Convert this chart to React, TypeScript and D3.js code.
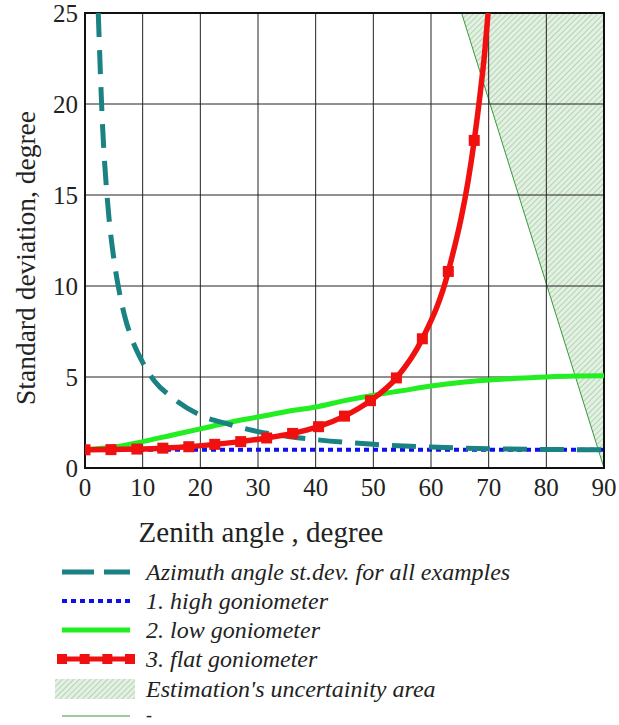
import React from "react";
import * as d3 from "d3";

// ---- data ----
const xTicks = [0, 10, 20, 30, 40, 50, 60, 70, 80, 90];
const yTicks = [0, 5, 10, 15, 20, 25];

// Azimuth angle st.dev. (teal dashed)
const azimuthX = [2.3, 3, 4, 5, 6, 7, 8, 10, 12, 15, 20, 25, 30, 35, 40, 50, 60, 70, 80, 90];
const azimuthY = [25, 19.1, 14.3, 11.5, 9.6, 8.2, 7.2, 5.8, 4.8, 3.9, 2.9, 2.4, 2.0, 1.75, 1.56, 1.3, 1.15, 1.06, 1.02, 1.0];

// 1. high goniometer (blue dotted)
const highX = [0, 90];
const highY = [1.0, 1.0];

// 2. low goniometer (green)
const lowX = [0, 5, 10, 15, 20, 25, 30, 35, 40, 45, 50, 55, 60, 65, 70, 75, 80, 85, 90];
const lowY = [1.0, 1.15, 1.45, 1.8, 2.15, 2.5, 2.8, 3.1, 3.35, 3.7, 4.0, 4.25, 4.5, 4.7, 4.83, 4.93, 5.0, 5.05, 5.07];

// 3. flat goniometer (red, markers)
const flatX = [0, 4.5, 9, 13.5, 18, 22.5, 27, 31.5, 36, 40.5, 45, 49.5, 54, 58.5, 63, 67.5];
const flatY = [1.0, 1.01, 1.04, 1.09, 1.17, 1.3, 1.45, 1.65, 1.9, 2.27, 2.85, 3.7, 4.95, 7.1, 10.8, 18.0];
const flatTailX = [68.5, 69.3, 69.9];
const flatTailY = [20.5, 22.8, 25];

// Estimation's uncertainty area
const areaX = [65.3, 90, 90];
const areaY = [25, 25, 0];

const legendLabels = [
  "Azimuth angle st.dev. for all examples",
  "1. high goniometer",
  "2. low goniometer",
  "3. flat goniometer",
  "Estimation's uncertainity area",
  "-",
];

const TEAL = "#1a8282";
const BLUE = "#1010e8";
const GREEN = "#22ee22";
const RED = "#f01010";

export default function App() {
  const W = 619, H = 725;
  const left = 85, right = 604, top = 13, bottom = 468;
  const x = d3.scaleLinear().domain([0, 90]).range([left, right]);
  const y = d3.scaleLinear().domain([0, 25]).range([bottom, top]);

  const line = d3.line<[number, number]>().x(d => x(d[0])).y(d => y(d[1]));
  const smooth = d3.line<[number, number]>().x(d => x(d[0])).y(d => y(d[1])).curve(d3.curveMonotoneX);

  const az: [number, number][] = azimuthX.map((v, i) => [v, azimuthY[i]]);
  const hi: [number, number][] = highX.map((v, i) => [v, highY[i]]);
  const lo: [number, number][] = lowX.map((v, i) => [v, lowY[i]]);
  const flat: [number, number][] = flatX.map((v, i) => [v, flatY[i]]);
  const flatAll: [number, number][] = flat.concat(flatTailX.map((v, i) => [v, flatTailY[i]] as [number, number]));
  const area: [number, number][] = areaX.map((v, i) => [v, areaY[i]]);

  const serif = "'Liberation Serif', 'Times New Roman', serif";
  const legendY = [572, 601, 630, 659, 689, 716];
  const textY = [580, 609, 638, 667, 697, 721];
  const textSize = [24, 24, 24, 24, 24, 18];
  const lx0 = 62, lx1 = 130, tx = 146;

  return (
    <svg width={W} height={H} style={{ position: "absolute", left: 0, top: 0, background: "#fff" }} fontFamily={serif}>
      <defs>
        <pattern id="hatch" width="4" height="4" patternUnits="userSpaceOnUse" patternTransform="rotate(45)">
          <rect width="4" height="4" fill="#e2f1e2" />
          <line x1="0" y1="0" x2="0" y2="4" stroke="#8ab68a" strokeWidth="1" />
        </pattern>
        <clipPath id="plot">
          <rect x={left} y={top} width={right - left} height={bottom - top} />
        </clipPath>
      </defs>

      {/* uncertainty area */}
      <path d={line(area) + "Z"} fill="url(#hatch)" />
      <line x1={x(area[0][0])} y1={y(area[0][1])} x2={x(area[2][0])} y2={y(area[2][1])} stroke="#3a9a3a" strokeWidth={1} />

      {/* grid */}
      {xTicks.map(t => (
        <line key={"gx" + t} x1={x(t)} x2={x(t)} y1={top} y2={bottom} stroke="#222" strokeWidth={1} />
      ))}
      {yTicks.map(t => (
        <line key={"gy" + t} x1={left} x2={right} y1={y(t)} y2={y(t)} stroke="#222" strokeWidth={1} />
      ))}
      <rect x={left} y={top} width={right - left} height={bottom - top} fill="none" stroke="#111" strokeWidth={2} />

      <g clipPath="url(#plot)">
        <path d={smooth(lo) || ""} fill="none" stroke={GREEN} strokeWidth={5} />
        <path d={line(hi) || ""} fill="none" stroke={BLUE} strokeWidth={4} strokeDasharray="5,4" />
        <path d={smooth(az) || ""} fill="none" stroke={TEAL} strokeWidth={5} strokeDasharray="24,13" />
        <path d={smooth(flatAll) || ""} fill="none" stroke={RED} strokeWidth={5.5} />
        {flat.map((d, i) => (
          <rect key={"m" + i} x={x(d[0]) - 5.5} y={y(d[1]) - 5.5} width={11} height={11} fill={RED} />
        ))}
      </g>

      {/* tick labels */}
      {yTicks.map(t => (
        <text key={"ty" + t} x={78} y={y(t)} dy="0.35em" textAnchor="end" fontSize={25} fill="#222">{t}</text>
      ))}
      {xTicks.map(t => (
        <text key={"tx" + t} x={x(t)} y={496} textAnchor="middle" fontSize={25} fill="#222">{t}</text>
      ))}

      {/* axis titles */}
      <text transform={`translate(35,258) rotate(-90)`} textAnchor="middle" fontSize={27.5} fill="#222">Standard deviation, degree</text>
      <text x={261} y={542} textAnchor="middle" fontSize={29} fill="#222">Zenith angle , degree</text>

      {/* legend */}
      <line x1={lx0} x2={lx1} y1={legendY[0]} y2={legendY[0]} stroke={TEAL} strokeWidth={5} strokeDasharray="32,10" />
      <line x1={lx0} x2={lx1} y1={legendY[1]} y2={legendY[1]} stroke={BLUE} strokeWidth={4} strokeDasharray="5,4" />
      <line x1={lx0} x2={lx1} y1={legendY[2]} y2={legendY[2]} stroke={GREEN} strokeWidth={5} />
      <line x1={lx0} x2={lx1} y1={legendY[3]} y2={legendY[3]} stroke={RED} strokeWidth={5} />
      {[0, 1, 2, 3].map(i => (
        <rect key={"lm" + i} x={lx0 + i * (lx1 - lx0) / 3 - 5} y={legendY[3] - 5} width={10} height={10} fill={RED} />
      ))}
      <rect x={55} y={legendY[4] - 10} width={80} height={20} fill="url(#hatch)" />
      <line x1={lx0} x2={lx1} y1={legendY[5]} y2={legendY[5]} stroke="#3a9a3a" strokeWidth={1} />
      {legendLabels.map((s, i) => (
        <text key={"lt" + i} x={tx} y={textY[i]} fontSize={textSize[i]} fontStyle="italic" fill="#222">{s}</text>
      ))}
    </svg>
  );
}
